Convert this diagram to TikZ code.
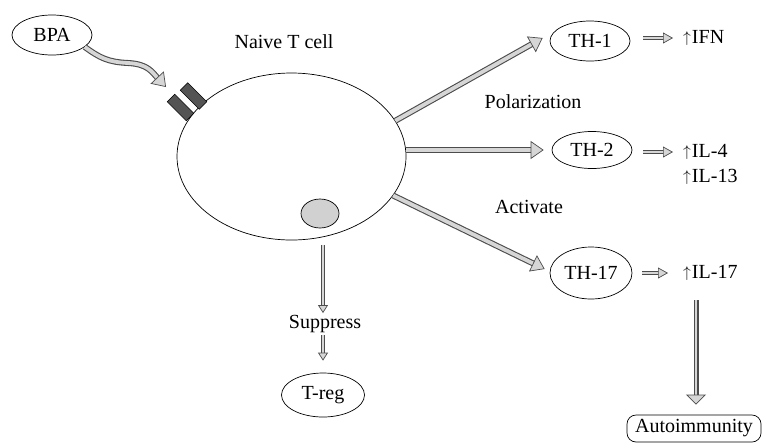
\documentclass[tikz,border=0pt]{standalone}
\usepackage{fontspec}
\setmainfont{Liberation Serif}
\usetikzlibrary{calc}
\usetikzlibrary{shapes.geometric}
\usetikzlibrary{arrows.meta}

\definecolor{arrowedge}{gray}{0.3}
\definecolor{arrowfill}{gray}{0.84}
\definecolor{receptor}{gray}{0.33}
\definecolor{nucleus}{gray}{0.82}

\newcommand{\uparr}{\raisebox{1pt}{\scalebox{0.75}{$\uparrow$}}\hspace{1pt}}

\tikzset{
	oval/.style={draw, ellipse, line width=0.7pt, inner sep=0pt},
	txt/.style={inner sep=2pt},
	cyto/.style={anchor=west, inner sep=0pt},
	receptorbox/.style={draw, fill=receptor, line width=0.5pt, minimum width=27, minimum height=10.5, inner sep=0pt},
	roundbox/.style={draw, rounded corners=9pt, line width=0.7pt, minimum width=134, minimum height=27, inner sep=0pt},
	% shaft of two lines with a light middle, open gray head
	grayarrow/.style n args={4}{draw=none,
		preaction={draw=arrowedge, line width=#1, shorten >=#3-1pt},
		preaction={draw=arrowfill, line width=#2, shorten >=#3-1.5pt},
		postaction={draw=arrowfill, line width=0.3pt,
			-{Triangle[length=#3, width=#4, fill=arrowfill, color=arrowedge, line width=0.7pt]}}},
	bigarrow/.style={grayarrow={6pt}{3.8pt}{13pt}{18pt}},
	smallarrow/.style={grayarrow={4.5pt}{2.4pt}{10pt}{11pt}},
	thinarrow/.style={grayarrow={3.6pt}{1.4pt}{8pt}{10pt}},
	tallarrow/.style={grayarrow={5pt}{2.6pt}{10pt}{20pt}}
}

\begin{document}
\begin{tikzpicture}[x=1pt, y=-1pt, font=\fontsize{20}{24}\selectfont]
	\useasboundingbox (0,0) rectangle (762,445);

	% naive T cell with its nucleus
	\node[oval, minimum width=229, minimum height=167] (cell) at (291.5,156.5) {};
	\node[oval, fill=nucleus, minimum width=38, minimum height=29] (nuc) at (320,213.5) {};
	\node[txt] (naive) at (284,42) {Naive T cell};

	% receptors on the membrane
	\node[receptorbox, rotate=-45] (rec1) at (180.5,107.5) {};
	\node[receptorbox, rotate=-45] (rec2) at (193.5,96) {};

	% BPA and the T cell subsets
	\node[oval, minimum width=80, minimum height=40] (bpa) at (52,35) {BPA};
	\node[oval, minimum width=80, minimum height=40] (th1) at (590,41) {TH-1};
	\node[oval, minimum width=80, minimum height=37] (th2) at (592,150) {TH-2};
	\node[oval, minimum width=82, minimum height=52] (th17) at (591,273) {TH-17};
	\node[oval, minimum width=83, minimum height=44] (treg) at (323,395) {T-reg};

	\node[txt] (pol) at (533,102) {Polarization};
	\node[txt] (act) at (529,207) {Activate};
	\node[txt] (supp) at (325,324) {Suppress};

	% cytokines
	\node[cyto] (ifn) at (683,38) {\uparr IFN};
	\node[cyto] (il4) at (683,152) {\uparr IL-4};
	\node[cyto] (il13) at (683,177) {\uparr IL-13};
	\node[cyto] (il17) at (683,273) {\uparr IL-17};
	\node[roundbox] (autoimm) at (694,428.5) {Autoimmunity};

	% BPA binding the receptor
	\coordinate (bpatip) at (166,87);
	\draw[bigarrow] (bpa.-20) .. controls (100,58) and (108,62) .. (128,63)
		.. controls (148,64) and (152,72) .. (bpatip);

	% polarization of the naive cell
	\draw[bigarrow] (cell.19) -- ($(th1.west)+(-7,-3)$);
	\draw[bigarrow] (cell.east |- th2) -- ($(th2.west)+(-8,0)$);
	\draw[bigarrow] (cell.-21) -- ($(th17.west)+(-5,-4)$);

	\draw[smallarrow] ($(th1.east |- ifn.west)+(13,0)$) -- ($(ifn.west)+(-10,0)$);
	\draw[smallarrow] ($(th2.east |- il4.west)+(11,0)$) -- ($(il4.west)+(-10,0)$);
	\draw[smallarrow] ($(th17.east |- il17.west)+(10,0)$) -- ($(il17.west)+(-15,0)$);
	\draw[tallarrow] ($(il17.west)+(13,27)$) -- ($(il17.west |- autoimm.north)+(13,-10)$);

	% suppression of T-reg
	\draw[thinarrow] ($(cell.south -| treg)+(0,5)$) -- (supp.north -| treg);
	\draw[thinarrow] (supp.south -| treg) -- ($(treg.north)+(0,-12)$);
\end{tikzpicture}
\end{document}
